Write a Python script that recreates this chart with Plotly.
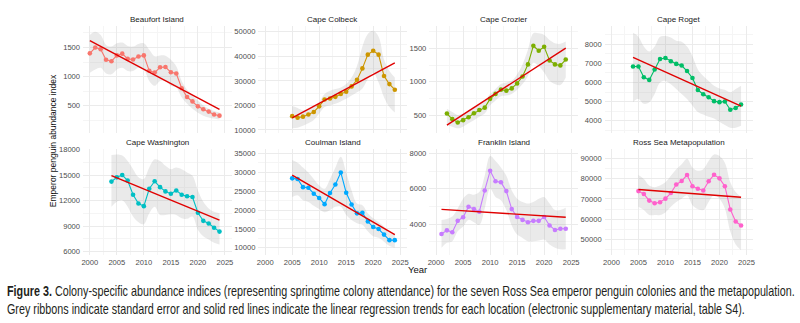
import plotly.graph_objects as go

# ---------------- data ----------------
colonies = ["Beaufort Island", "Cape Colbeck", "Cape Crozier", "Cape Roget",
            "Cape Washington", "Coulman Island", "Franklin Island", "Ross Sea Metapopulation"]
colors = ["#F8766D", "#CD9600", "#7CAE00", "#00BE67", "#00BFC4", "#00A9FF", "#C77CFF", "#FF61CC"]
first_year = [2000, 2005, 2002, 2004, 2004, 2005, 2001, 2005]
last_year = 2024

beaufort_idx = [1400, 1500, 1470, 1290, 1265, 1365, 1395, 1305, 1295, 1345, 1365, 1100, 1070,
                1160, 1165, 1075, 1055, 800, 650, 575, 490, 440, 400, 350, 330]
beaufort_hi = [1713, 1770, 1713, 1545, 1517, 1573, 1584, 1528, 1517, 1562, 1573, 1461, 1348,
               1365, 1360, 1292, 1180, 927, 775, 674, 590, 505, 450, 410, 385]
beaufort_lo = [1067, 1124, 1152, 1056, 1040, 1124, 1152, 1096, 1096, 1152, 1124, 927, 843,
               927, 927, 843, 815, 646, 534, 449, 380, 330, 300, 280, 265]

colbeck_idx = [15600, 15000, 15400, 16270, 17330, 19600, 22400, 22800, 23470, 24670, 25600,
               27730, 30400, 35070, 40670, 42270, 40670, 32000, 28670, 26400]
colbeck_hi = [19730, 18930, 18000, 18400, 19330, 21330, 24670, 26000, 26670, 27330, 28670,
              31330, 36000, 44000, 49070, 50400, 48000, 38670, 34000, 31330]
colbeck_lo = [10670, 10930, 11730, 12670, 14000, 16670, 19330, 20000, 20670, 21600, 22670,
              24000, 25330, 26930, 30670, 33330, 29330, 23330, 19330, 17070]

crozier_idx = [527, 444, 395, 429, 473, 532, 580, 615, 746, 820, 883, 868, 902, 976, 1078,
               1259, 1537, 1463, 1522, 1317, 1259, 1244, 1332]
crozier_hi = [600, 551, 507, 527, 576, 624, 673, 722, 820, 893, 966, 990, 1015, 1112, 1259,
              1478, 1722, 1722, 1698, 1624, 1576, 1566, 1600]
crozier_lo = [356, 332, 307, 332, 381, 429, 478, 527, 649, 722, 785, 795, 820, 883, 966,
              1088, 1283, 1234, 1137, 1015, 966, 951, 1063]

roget_idx = [6837, 6837, 6273, 6137, 6684, 7230, 7282, 7111, 6974, 6889, 6598, 6239, 5607,
             5385, 5231, 5026, 4975, 5009, 4581, 4667, 4855]
roget_hi = [8598, 8393, 7880, 7624, 7880, 8393, 8427, 8358, 8188, 8136, 7880, 7367, 6684,
            6342, 6085, 5829, 5692, 5624, 5487, 5658, 5829]
roget_lo = [4975, 5145, 4889, 4975, 5402, 6000, 6085, 5915, 5658, 5402, 5145, 4804, 4462,
            4325, 4206, 4120, 3949, 3778, 3641, 3641, 3744]

washington_idx = [14231, 14731, 15000, 14346, 12692, 11654, 11346, 13385, 14269, 13577, 13077,
                  12808, 13192, 12692, 12500, 12423, 10577, 9615, 9308, 8800, 8350]
washington_hi = [17346, 17420, 17300, 16650, 15690, 14730, 14540, 15880, 16850, 16650, 16080,
                 15690, 15880, 15690, 15310, 14920, 13190, 11850, 11080, 10690, 10500]
washington_lo = [11270, 11850, 12040, 11270, 10115, 9460, 9230, 10500, 11270, 10310, 10310,
                 10380, 10310, 9920, 9850, 10115, 8580, 7810, 7420, 7040, 6850]

coulman_idx = [28403, 28230, 26060, 25886, 24324, 23195, 21546, 24497, 26754, 29966, 24584,
               21459, 19116, 19289, 16946, 15470, 14949, 13474, 11998, 11998]
coulman_hi = [33264, 32570, 31268, 29966, 28230, 26494, 25626, 28230, 31268, 34132, 29966,
              25192, 21720, 21286, 19116, 17814, 16772, 15644, 13908, 13647]
coulman_lo = [23456, 23890, 22588, 22154, 21112, 20244, 19376, 19984, 20852, 20852, 18682,
              17380, 16512, 16078, 14342, 13040, 12606, 11564, 10436, 10002]

franklin_idx = [3444, 3648, 3537, 4185, 4389, 4981, 4852, 4704, 5907, 7018, 6426, 6370, 5870,
                4852, 4407, 4241, 4111, 4185, 4185, 4407, 3926, 3667, 3741, 3741]
franklin_hi = [4241, 4296, 4426, 4889, 5444, 5722, 5667, 5815, 6741, 7852, 7574, 7204, 6741,
               5907, 5444, 5259, 5167, 5259, 5444, 5537, 5167, 4796, 4796, 4926]
franklin_lo = [2667, 2944, 3037, 3593, 3870, 4241, 4111, 3963, 4889, 6000, 5537, 5352, 4796,
               3926, 3407, 3222, 3037, 3037, 3074, 3130, 2852, 2667, 2574, 2574]

ross_idx = [73870, 72418, 69193, 67902, 68386, 70161, 72903, 77097, 78871, 81774, 76290,
            75000, 74193, 78710, 81935, 80161, 76290, 64838, 58870, 56935]
ross_hi = [81774, 79839, 76612, 75806, 76612, 78225, 81451, 84677, 87097, 89839, 85484,
           83870, 84677, 88710, 91935, 91129, 87903, 78225, 73387, 70967]
ross_lo = [66128, 64516, 62096, 62096, 62096, 63386, 66128, 68548, 70161, 71774, 66935,
           64999, 64516, 68548, 71774, 70161, 65322, 54032, 47580, 44677]

# linear-trend end values (start year / last year)
trend_start = [1618, 14930, 356, 7316, 14923, 29271, 4833, 74677]
trend_end = [440, 37330, 1502, 4770, 9700, 13474, 4389, 70806]

x_ticks = [2000, 2005, 2010, 2015, 2020, 2025]

indices = [beaufort_idx, colbeck_idx, crozier_idx, roget_idx,
           washington_idx, coulman_idx, franklin_idx, ross_idx]
uppers = [beaufort_hi, colbeck_hi, crozier_hi, roget_hi,
          washington_hi, coulman_hi, franklin_hi, ross_hi]
lowers = [beaufort_lo, colbeck_lo, crozier_lo, roget_lo,
          washington_lo, coulman_lo, franklin_lo, ross_lo]

# ---------------- layout settings ----------------
W, H = 800, 323
cols_px = [(81.5, 230.8), (257.7, 407.0), (429.5, 578.8), (605.7, 755.0)]
rows_px = [(22.5, 131.0), (147.5, 256.0)]
y_ranges = [[40, 1868], [8920, 52320], [244, 1830], [3385, 8949],
            [5573, 18092], [7995, 36250], [2239, 8267], [42260, 94740]]
y_dticks = [500, 10000, 500, 1000, 3000, 5000, 2000, 10000]
x_range = [1998.75, 2026.25]

FONT = "Liberation Sans, Arial, sans-serif"
GRID = "#EBEBEB"
GRID_MINOR = "#F5F5F5"

fig = go.Figure()
layout = dict(width=W, height=H, margin=dict(l=0, r=0, t=0, b=0),
              paper_bgcolor="white", plot_bgcolor="white", showlegend=False)
annotations = []

for i, name in enumerate(colonies):
    r, c = divmod(i, 4)
    n = i + 1
    xa = "x" if n == 1 else f"x{n}"
    ya = "y" if n == 1 else f"y{n}"
    years = list(range(first_year[i], last_year + 1))

    fig.add_trace(go.Scatter(x=years, y=lowers[i], mode="lines", line=dict(width=0, shape="spline"),
                             xaxis=xa, yaxis=ya, hoverinfo="skip"))
    fig.add_trace(go.Scatter(x=years, y=uppers[i], mode="lines", line=dict(width=0, shape="spline"),
                             fill="tonexty", fillcolor="rgba(150,150,150,0.2)",
                             xaxis=xa, yaxis=ya, hoverinfo="skip"))
    fig.add_trace(go.Scatter(x=years, y=indices[i], mode="lines+markers",
                             line=dict(color=colors[i], width=1.1),
                             marker=dict(color=colors[i], size=4.6),
                             xaxis=xa, yaxis=ya))
    fig.add_trace(go.Scatter(x=[years[0], years[-1]], y=[trend_start[i], trend_end[i]], mode="lines",
                             line=dict(color="#E00000", width=1.4), xaxis=xa, yaxis=ya))

    x0, x1 = cols_px[c]
    y0, y1 = rows_px[r]
    xkey = "xaxis" if n == 1 else f"xaxis{n}"
    ykey = "yaxis" if n == 1 else f"yaxis{n}"
    layout[xkey] = dict(domain=[x0 / W, x1 / W], anchor=ya, range=x_range,
                        tickmode="array", tickvals=x_ticks, showticklabels=(r == 1),
                        ticks="", showline=False, zeroline=False,
                        showgrid=True, gridcolor=GRID, gridwidth=1,
                        minor=dict(tickmode="array", tickvals=[1997.5 + 5 * k for k in range(7)],
                                   showgrid=True, gridcolor=GRID_MINOR, gridwidth=0.6),
                        tickfont=dict(family=FONT, size=7.6, color="#4D4D4D"),
                        ticklabelstandoff=1)
    d = y_dticks[i]
    layout[ykey] = dict(domain=[1 - y1 / H, 1 - y0 / H], anchor=xa, range=y_ranges[i],
                        tick0=0, dtick=d, tickformat="d", ticks="", showline=False, zeroline=False,
                        showgrid=True, gridcolor=GRID, gridwidth=1,
                        minor=dict(tick0=d / 2, dtick=d, showgrid=True, gridcolor=GRID_MINOR, gridwidth=0.6),
                        tickfont=dict(family=FONT, size=7.6, color="#4D4D4D"),
                        ticklabelstandoff=2)
    annotations.append(dict(text=name, x=(x0 + x1) / 2 / W, y=1 - (y0 - 6.5) / H,
                            xref="paper", yref="paper", showarrow=False,
                            xanchor="center", yanchor="middle",
                            font=dict(family=FONT, size=8, color="#1A1A1A")))

annotations.append(dict(text="Emperor penguin abundance index", x=52 / W, y=1 - 139 / H,
                        xref="paper", yref="paper", showarrow=False, textangle=-90,
                        xanchor="center", yanchor="middle",
                        font=dict(family=FONT, size=8.5, color="#111111")))
annotations.append(dict(text="Year", x=418 / W, y=1 - 271 / H, xref="paper", yref="paper",
                        showarrow=False, xanchor="center", yanchor="middle",
                        font=dict(family=FONT, size=9.5, color="#111111")))
caption = ("<b>Figure 3.</b> Colony-specific abundance indices (representing springtime colony attendance) "
           "for the seven Ross Sea emperor penguin colonies and the metapopulation.<br>"
           "Grey ribbons indicate standard error and solid red lines indicate the linear regression trends "
           "for each location (electronic supplementary material, table S4).")
annotations.append(dict(text=caption, x=3 / W, y=1 - 283 / H, xref="paper", yref="paper",
                        showarrow=False, xanchor="left", yanchor="top", align="left",
                        font=dict(family=FONT, size=13.8, color="#231F20")))
layout["annotations"] = annotations
fig.update_layout(**layout)

# condense the caption horizontally (the reference uses a condensed typeface)
post_js = """
(function(){
  function condense(){
    var gd = document.getElementById('{plot_id}');
    if(!gd) return;
    var texts = gd.querySelectorAll('text.annotation-text');
    texts.forEach(function(t){
      if((t.textContent||'').indexOf('Figure 3.') !== 0) return;
      t.removeAttribute('transform');
      var lines = t.querySelectorAll('tspan.line');
      var first = lines.length ? lines[0] : t;
      var bb = t.getBBox();
      var w = first.getComputedTextLength ? first.getComputedTextLength() : bb.width;
      if(!w) return;
      var s = 788 / w;
      var x0 = bb.x;
      t.setAttribute('transform', 'matrix(' + s + ',0,0,1,' + (x0 * (1 - s)) + ',0)');
    });
  }
  condense();
  setTimeout(condense, 50);
  setTimeout(condense, 300);
})();
"""
fig.write_html("out.html", post_script=post_js)
